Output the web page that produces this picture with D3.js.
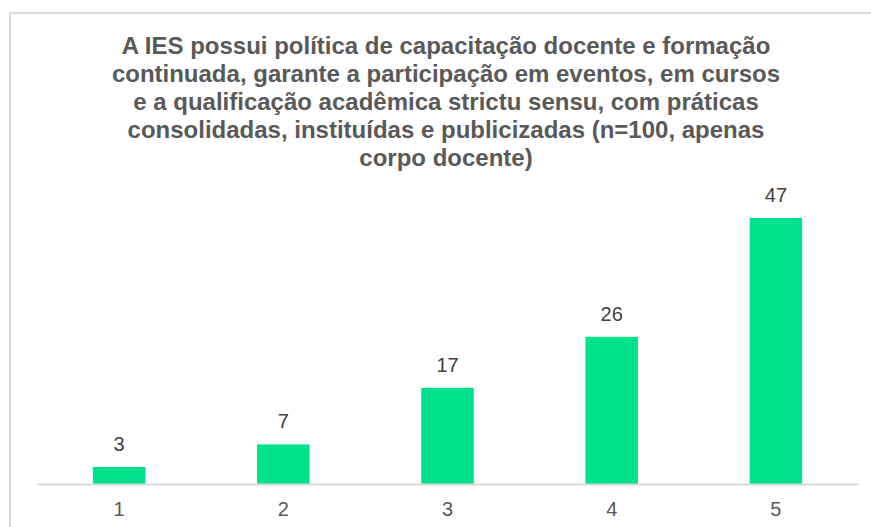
<!DOCTYPE html>
<html>
<head>
<meta charset="utf-8">
<script src="https://cdn.jsdelivr.net/npm/d3@7"></script>
<style>
  html, body { margin: 0; padding: 0; background: #fff; }
</style>
</head>
<body>
<div id="chart"></div>
<script>
// data
var categories = ["1", "2", "3", "4", "5"];
var values = [3, 7, 17, 26, 47];
var titleLines = [
  "A IES possui política de capacitação docente e formação",
  "continuada, garante a participação em eventos, em cursos",
  "e a qualificação acadêmica strictu sensu, com práticas",
  "consolidadas, instituídas e publicizadas (n=100, apenas",
  "corpo docente)"
];

var width = 871, height = 527;
var font = "'Liberation Sans', Arial, sans-serif";

var svg = d3.select("#chart").append("svg")
  .attr("width", width)
  .attr("height", height)
  .attr("font-family", font);

// outer frame
svg.append("rect")
  .attr("x", 10).attr("y", 13)
  .attr("width", 880).attr("height", 540)
  .attr("fill", "#fff")
  .attr("stroke", "#d9d9d9")
  .attr("stroke-width", 2);

// title
svg.append("g").selectAll("text")
  .data(titleLines)
  .join("text")
  .attr("x", 446)
  .attr("y", (d, i) => 54 + i * 28)
  .attr("text-anchor", "middle")
  .attr("font-size", 24)
  .attr("font-weight", "bold")
  .attr("fill", "#595959")
  .text(d => d);

var x = d3.scaleBand().domain(categories).range([37, 858]);
var y = d3.scaleLinear().domain([0, 50]).range([484, 201]);
var barW = x.bandwidth() * 0.32;

svg.append("g").selectAll("rect")
  .data(values)
  .join("rect")
  .attr("x", (d, i) => x(categories[i]) + x.bandwidth() / 2 - barW / 2)
  .attr("y", d => y(d))
  .attr("width", barW)
  .attr("height", d => y(0) - y(d))
  .attr("fill", "#00e38c");

// value labels
svg.append("g").selectAll("text")
  .data(values)
  .join("text")
  .attr("x", (d, i) => x(categories[i]) + x.bandwidth() / 2)
  .attr("y", d => y(d) - 16)
  .attr("text-anchor", "middle")
  .attr("font-size", 20)
  .attr("fill", "#404040")
  .text(d => d);

// x axis
var xAxis = svg.append("g")
  .attr("transform", "translate(0," + y(0) + ")")
  .call(d3.axisBottom(x).tickSize(0).tickPadding(18));
xAxis.select(".domain").attr("stroke", "#d9d9d9").attr("stroke-width", 2);
xAxis.selectAll("text")
  .attr("font-family", font)
  .attr("font-size", 20)
  .attr("fill", "#595959");
</script>
</body>
</html>
